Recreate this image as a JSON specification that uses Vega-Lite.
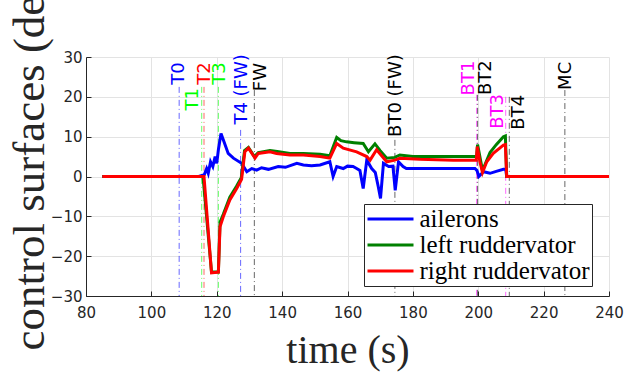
{
  "$schema": "https://vega.github.io/schema/vega-lite/v6.json",
  "width": 523,
  "height": 239,
  "autosize": {"type": "none"},
  "padding": {"left": 86, "top": 57, "right": 26, "bottom": 77},
  "background": "white",
  "config": {
    "view": {"stroke": null},
    "axis": {
      "domainColor": "#262626",
      "tickColor": "#262626",
      "gridColor": "#e3e3e3",
      "labelColor": "#262626",
      "labelFont": "DejaVu Sans",
      "labelFontSize": 15,
      "labelOverlap": false,
      "labelFlush": false,
      "titleFont": "Liberation Serif",
      "titleFontWeight": "normal",
      "titleColor": "#262626"
    }
  },
  "datasets": {
    "series": [
      {"t": 85, "v": 0, "s": "ailerons"},
      {"t": 114.5, "v": 0, "s": "ailerons"},
      {"t": 115.5, "v": 0.3, "s": "ailerons"},
      {"t": 116.2, "v": 0.5, "s": "ailerons"},
      {"t": 116.9, "v": 2.0, "s": "ailerons"},
      {"t": 117.4, "v": 0.8, "s": "ailerons"},
      {"t": 118.1, "v": 3.7, "s": "ailerons"},
      {"t": 118.8, "v": 2.5, "s": "ailerons"},
      {"t": 119.5, "v": 5.0, "s": "ailerons"},
      {"t": 120.0, "v": 3.3, "s": "ailerons"},
      {"t": 120.5, "v": 6.7, "s": "ailerons"},
      {"t": 121.3, "v": 10.8, "s": "ailerons"},
      {"t": 122.0, "v": 9.2, "s": "ailerons"},
      {"t": 123.5, "v": 5.8, "s": "ailerons"},
      {"t": 125.1, "v": 4.6, "s": "ailerons"},
      {"t": 127.6, "v": 3.3, "s": "ailerons"},
      {"t": 129.2, "v": 1.2, "s": "ailerons"},
      {"t": 130.7, "v": 2.0, "s": "ailerons"},
      {"t": 132.2, "v": 1.6, "s": "ailerons"},
      {"t": 133.7, "v": 2.2, "s": "ailerons"},
      {"t": 135.8, "v": 1.8, "s": "ailerons"},
      {"t": 138.8, "v": 2.5, "s": "ailerons"},
      {"t": 141.0, "v": 2.3, "s": "ailerons"},
      {"t": 144.5, "v": 3.3, "s": "ailerons"},
      {"t": 146.5, "v": 2.9, "s": "ailerons"},
      {"t": 149.0, "v": 2.7, "s": "ailerons"},
      {"t": 151.6, "v": 2.9, "s": "ailerons"},
      {"t": 154.6, "v": 3.7, "s": "ailerons"},
      {"t": 155.6, "v": 0.0, "s": "ailerons"},
      {"t": 156.7, "v": 2.5, "s": "ailerons"},
      {"t": 158.7, "v": 2.0, "s": "ailerons"},
      {"t": 160.0, "v": 2.6, "s": "ailerons"},
      {"t": 161.7, "v": 2.5, "s": "ailerons"},
      {"t": 162.8, "v": 2.0, "s": "ailerons"},
      {"t": 163.8, "v": 1.5, "s": "ailerons"},
      {"t": 164.8, "v": -3.0, "s": "ailerons"},
      {"t": 165.9, "v": 4.1, "s": "ailerons"},
      {"t": 167.4, "v": 2.0, "s": "ailerons"},
      {"t": 168.5, "v": 1.0, "s": "ailerons"},
      {"t": 169.4, "v": -2.5, "s": "ailerons"},
      {"t": 170.1, "v": -5.5, "s": "ailerons"},
      {"t": 171.0, "v": 3.3, "s": "ailerons"},
      {"t": 172.6, "v": 2.5, "s": "ailerons"},
      {"t": 173.9, "v": 2.6, "s": "ailerons"},
      {"t": 174.6, "v": -3.5, "s": "ailerons"},
      {"t": 175.6, "v": 3.7, "s": "ailerons"},
      {"t": 177.0, "v": 2.5, "s": "ailerons"},
      {"t": 178.0, "v": 2.0, "s": "ailerons"},
      {"t": 182.0, "v": 2.0, "s": "ailerons"},
      {"t": 192.0, "v": 2.0, "s": "ailerons"},
      {"t": 199.0, "v": 2.0, "s": "ailerons"},
      {"t": 199.6, "v": 1.5, "s": "ailerons"},
      {"t": 200.2, "v": 0.0, "s": "ailerons"},
      {"t": 201.6, "v": 1.2, "s": "ailerons"},
      {"t": 203.6, "v": 0.8, "s": "ailerons"},
      {"t": 205.5, "v": 1.3, "s": "ailerons"},
      {"t": 207.7, "v": 1.8, "s": "ailerons"},
      {"t": 208.4, "v": 1.8, "s": "ailerons"},
      {"t": 208.7, "v": 0, "s": "ailerons"},
      {"t": 240, "v": 0, "s": "ailerons"},

      {"t": 85, "v": 0, "s": "left ruddervator"},
      {"t": 115.8, "v": 0, "s": "left ruddervator"},
      {"t": 118.4, "v": -24, "s": "left ruddervator"},
      {"t": 120.5, "v": -24, "s": "left ruddervator"},
      {"t": 121.0, "v": -11.5, "s": "left ruddervator"},
      {"t": 122.0, "v": -9.5, "s": "left ruddervator"},
      {"t": 124.0, "v": -5.2, "s": "left ruddervator"},
      {"t": 126.0, "v": -2.5, "s": "left ruddervator"},
      {"t": 127.5, "v": -0.3, "s": "left ruddervator"},
      {"t": 128.5, "v": 6.5, "s": "left ruddervator"},
      {"t": 129.7, "v": 7.3, "s": "left ruddervator"},
      {"t": 131.5, "v": 5.0, "s": "left ruddervator"},
      {"t": 132.7, "v": 6.0, "s": "left ruddervator"},
      {"t": 136.3, "v": 6.5, "s": "left ruddervator"},
      {"t": 138.5, "v": 6.3, "s": "left ruddervator"},
      {"t": 142.4, "v": 5.8, "s": "left ruddervator"},
      {"t": 146.5, "v": 5.8, "s": "left ruddervator"},
      {"t": 151.6, "v": 5.6, "s": "left ruddervator"},
      {"t": 154.6, "v": 5.2, "s": "left ruddervator"},
      {"t": 156.7, "v": 9.8, "s": "left ruddervator"},
      {"t": 158.0, "v": 9.0, "s": "left ruddervator"},
      {"t": 159.7, "v": 8.7, "s": "left ruddervator"},
      {"t": 162.0, "v": 8.5, "s": "left ruddervator"},
      {"t": 164.8, "v": 8.3, "s": "left ruddervator"},
      {"t": 166.4, "v": 6.2, "s": "left ruddervator"},
      {"t": 168.4, "v": 8.2, "s": "left ruddervator"},
      {"t": 170.0, "v": 6.5, "s": "left ruddervator"},
      {"t": 172.0, "v": 4.6, "s": "left ruddervator"},
      {"t": 174.5, "v": 4.8, "s": "left ruddervator"},
      {"t": 176.0, "v": 5.4, "s": "left ruddervator"},
      {"t": 180.0, "v": 5.0, "s": "left ruddervator"},
      {"t": 190.0, "v": 5.0, "s": "left ruddervator"},
      {"t": 199.5, "v": 5.0, "s": "left ruddervator"},
      {"t": 199.8, "v": 8.0, "s": "left ruddervator"},
      {"t": 201.3, "v": 1.5, "s": "left ruddervator"},
      {"t": 203.6, "v": 6.0, "s": "left ruddervator"},
      {"t": 205.5, "v": 8.0, "s": "left ruddervator"},
      {"t": 207.7, "v": 10.0, "s": "left ruddervator"},
      {"t": 208.3, "v": 10.2, "s": "left ruddervator"},
      {"t": 208.7, "v": 0, "s": "left ruddervator"},
      {"t": 240, "v": 0, "s": "left ruddervator"},

      {"t": 85, "v": 0, "s": "right ruddervator"},
      {"t": 116.1, "v": 0, "s": "right ruddervator"},
      {"t": 118.4, "v": -24.2, "s": "right ruddervator"},
      {"t": 120.5, "v": -24, "s": "right ruddervator"},
      {"t": 121.0, "v": -12.6, "s": "right ruddervator"},
      {"t": 122.0, "v": -10.1, "s": "right ruddervator"},
      {"t": 124.0, "v": -5.9, "s": "right ruddervator"},
      {"t": 126.1, "v": -3.0, "s": "right ruddervator"},
      {"t": 127.6, "v": -0.7, "s": "right ruddervator"},
      {"t": 128.6, "v": 6.2, "s": "right ruddervator"},
      {"t": 129.7, "v": 7.1, "s": "right ruddervator"},
      {"t": 131.7, "v": 4.6, "s": "right ruddervator"},
      {"t": 132.7, "v": 5.8, "s": "right ruddervator"},
      {"t": 136.3, "v": 6.2, "s": "right ruddervator"},
      {"t": 138.3, "v": 5.8, "s": "right ruddervator"},
      {"t": 142.4, "v": 5.4, "s": "right ruddervator"},
      {"t": 146.5, "v": 5.4, "s": "right ruddervator"},
      {"t": 151.6, "v": 5.0, "s": "right ruddervator"},
      {"t": 154.6, "v": 4.6, "s": "right ruddervator"},
      {"t": 156.7, "v": 8.3, "s": "right ruddervator"},
      {"t": 158.7, "v": 7.1, "s": "right ruddervator"},
      {"t": 162.8, "v": 6.2, "s": "right ruddervator"},
      {"t": 165.9, "v": 5.0, "s": "right ruddervator"},
      {"t": 166.9, "v": 4.1, "s": "right ruddervator"},
      {"t": 168.9, "v": 6.7, "s": "right ruddervator"},
      {"t": 172.0, "v": 3.7, "s": "right ruddervator"},
      {"t": 174.5, "v": 4.1, "s": "right ruddervator"},
      {"t": 176.0, "v": 4.6, "s": "right ruddervator"},
      {"t": 182.2, "v": 4.3, "s": "right ruddervator"},
      {"t": 192.4, "v": 4.1, "s": "right ruddervator"},
      {"t": 199.4, "v": 4.1, "s": "right ruddervator"},
      {"t": 199.7, "v": 7.5, "s": "right ruddervator"},
      {"t": 200.5, "v": 3.7, "s": "right ruddervator"},
      {"t": 201.3, "v": 1.0, "s": "right ruddervator"},
      {"t": 202.6, "v": 3.7, "s": "right ruddervator"},
      {"t": 204.6, "v": 5.8, "s": "right ruddervator"},
      {"t": 207.7, "v": 7.9, "s": "right ruddervator"},
      {"t": 208.3, "v": 8.0, "s": "right ruddervator"},
      {"t": 208.7, "v": 0, "s": "right ruddervator"},
      {"t": 240, "v": 0, "s": "right ruddervator"}
    ],
    "events": [
      {"name": "T0", "t": 108.5, "top": 22.5, "tx": 108.3, "ty": 28.7},
      {"name": "T1", "t": 115.4, "top": 22.5, "tx": 112.7, "ty": 22.2},
      {"name": "T2", "t": 116.1, "top": 22.5, "tx": 116.4, "ty": 28.7},
      {"name": "T3", "t": 120.5, "top": 22.5, "tx": 121.1, "ty": 28.7},
      {"name": "T4 (FW)", "t": 127.3, "top": 11.7, "tx": 127.6, "ty": 30.7},
      {"name": "FW", "t": 131.5, "top": 21.7, "tx": 133.5, "ty": 28.5},
      {"name": "BT0 (FW)", "t": 174.5, "top": 9.2, "tx": 174.7, "ty": 30.7},
      {"name": "BT1", "t": 199.5, "top": 20.5, "tx": 197.2, "ty": 29.1},
      {"name": "BT2", "t": 199.8, "top": 20.5, "tx": 202.4, "ty": 29.2},
      {"name": "BT3", "t": 208.4, "top": 20.0, "tx": 205.9, "ty": 20.7},
      {"name": "BT4", "t": 209.5, "top": 20.0, "tx": 212.5, "ty": 20.5},
      {"name": "MC", "t": 226.5, "top": 21.7, "tx": 226.8, "ty": 28.8}
    ]
  },
  "layer": [
    {
      "data": {"name": "events"},
      "mark": {"type": "rule", "strokeWidth": 1, "strokeDash": [6, 3, 1, 3], "opacity": 0.6},
      "encoding": {
        "x": {"field": "t", "type": "quantitative", "scale": {"domain": [80, 240], "nice": false},
          "axis": {"values": [80, 100, 120, 140, 160, 180, 200, 220, 240], "tickCount": 20, "labelOverlap": false, "title": "time (s)", "titleFontSize": 40, "titleY": 66, "titleBaseline": "alphabetic", "tickSize": -5, "labelPadding": 14, "grid": true}},
        "y": {"field": "top", "type": "quantitative", "scale": {"domain": [-30, 30], "nice": false},
          "axis": {"values": [-30, -20, -10, 0, 10, 20, 30], "tickCount": 10, "labelOverlap": false, "title": "control surfaces (deg)", "titleFontSize": 45, "titleAngle": 270, "titleAlign": "left", "titleBaseline": "alphabetic", "titleX": -43, "titleY": 293, "tickSize": -5, "labelPadding": 9, "grid": true}},
        "y2": {"datum": -30},
        "color": {"field": "name", "type": "nominal", "legend": null,
          "scale": {"domain": ["T0", "T1", "T2", "T3", "T4 (FW)", "FW", "BT0 (FW)", "BT1", "BT2", "BT3", "BT4", "MC"],
            "range": ["#0000ff", "#00ff00", "#ff0000", "#00ff00", "#0000ff", "#000000", "#000000", "#ff00ff", "#000000", "#ff00ff", "#000000", "#000000"]}}
      }
    },
    {
      "data": {"name": "events"},
      "mark": {"type": "text", "angle": 270, "align": "right", "baseline": "middle", "font": "DejaVu Sans", "fontSize": 18},
      "encoding": {
        "x": {"field": "tx", "type": "quantitative"},
        "y": {"field": "ty", "type": "quantitative"},
        "text": {"field": "name"},
        "color": {"field": "name", "type": "nominal", "legend": null,
          "scale": {"domain": ["T0", "T1", "T2", "T3", "T4 (FW)", "FW", "BT0 (FW)", "BT1", "BT2", "BT3", "BT4", "MC"],
            "range": ["#0000ff", "#00ff00", "#ff0000", "#00ff00", "#0000ff", "#000000", "#000000", "#ff00ff", "#000000", "#ff00ff", "#000000", "#000000"]}}
      }
    },
    {
      "data": {"name": "series"},
      "mark": {"type": "line", "strokeWidth": 3, "clip": true},
      "encoding": {
        "x": {"field": "t", "type": "quantitative"},
        "y": {"field": "v", "type": "quantitative"},
        "color": {"field": "s", "type": "nominal",
          "scale": {"domain": ["ailerons", "left ruddervator", "right ruddervator"], "range": ["#0000ff", "#008000", "#ff0000"]},
          "legend": {"title": null, "orient": "none", "legendX": 278, "legendY": 147,
            "strokeColor": "#262626", "fillColor": "white", "padding": 2,
            "symbolType": "M-2,0H2", "symbolSize": 529, "symbolStrokeWidth": 3, "symbolOffset": 11.5,
            "labelFont": "Liberation Serif", "labelFontSize": 25, "labelColor": "#000000", "labelOffset": 16, "rowPadding": 0, "labelLimit": 400}}
      }
    }
  ],
  "resolve": {"scale": {"color": "independent"}}
}
